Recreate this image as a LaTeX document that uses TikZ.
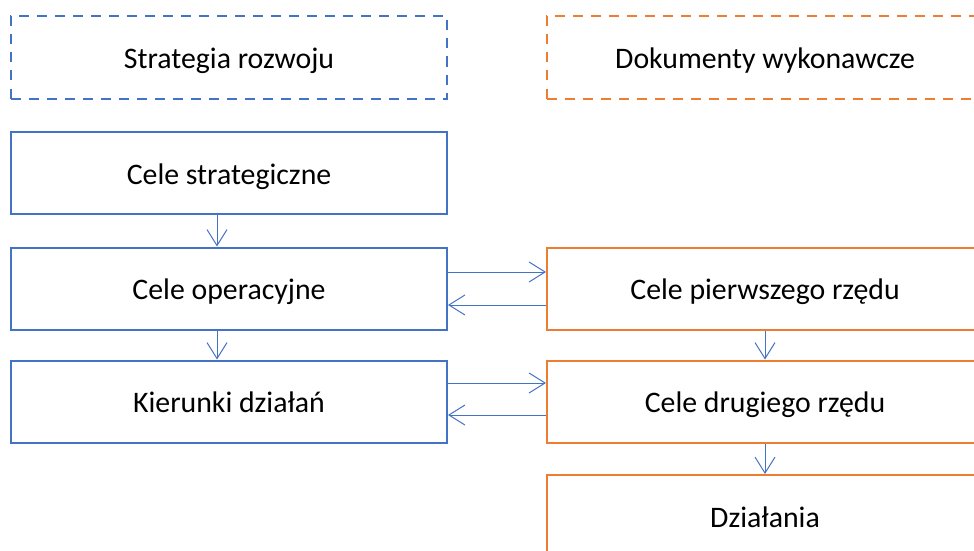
\documentclass[tikz,border=0pt]{standalone}
\usepackage{fontspec}
\setmainfont{Carlito}
\usetikzlibrary{arrows.meta}
\definecolor{offblue}{HTML}{4472C4}
\definecolor{offorange}{HTML}{ED7D31}
\begin{document}
\begin{tikzpicture}[x=1pt, y=-1pt,
    box/.style={draw, line width=2pt, minimum width=436pt, minimum height=82pt,
        inner sep=0pt, text height=26pt, text depth=4pt,
        font=\fontsize{29.8}{34}\selectfont},
    leftbox/.style={box, draw=offblue},
    rightbox/.style={box, draw=offorange},
    headbox/.style={dash pattern=on 10pt off 8pt},
    flow/.style={draw=offblue, line width=1pt, -{Straight Barb[length=16pt, width=20pt]}}]
    \useasboundingbox (0,0) rectangle (974,551);
    \clip (0,0) rectangle (974,551);

    \node[leftbox, headbox] (strat) at (229,57.5) {Strategia rozwoju};
    \node[leftbox] (cstrat) at (229,173) {Cele strategiczne};
    \node[leftbox] (cop) at (229,288.5) {Cele operacyjne};
    \node[leftbox] (kier) at (229,401.5) {Kierunki działań};

    \node[rightbox, headbox] (dok) at (765,57.5) {Dokumenty wykonawcze};
    \node[rightbox] (pier) at (765,288.5) {Cele pierwszego rzędu};
    \node[rightbox] (drug) at (765,401.5) {Cele drugiego rzędu};
    \node[rightbox] (dzial) at (765,516) {Działania};

    \draw[flow] ([xshift=-12pt]cstrat.south) -- ([xshift=-12pt]cop.north);
    \draw[flow] ([xshift=-12pt]cop.south) -- ([xshift=-12pt]kier.north);

    \draw[flow] ([yshift=16.5pt]cop.east) -- ([yshift=16.5pt]pier.west);
    \draw[flow] ([yshift=-16.5pt]pier.west) -- ([yshift=-16.5pt]cop.east);
    \draw[flow] ([yshift=18.5pt]kier.east) -- ([yshift=18.5pt]drug.west);
    \draw[flow] ([yshift=-13.5pt]drug.west) -- ([yshift=-13.5pt]kier.east);

    \draw[flow] (pier) -- (drug);
    \draw[flow] (drug) -- (dzial);
\end{tikzpicture}
\end{document}
